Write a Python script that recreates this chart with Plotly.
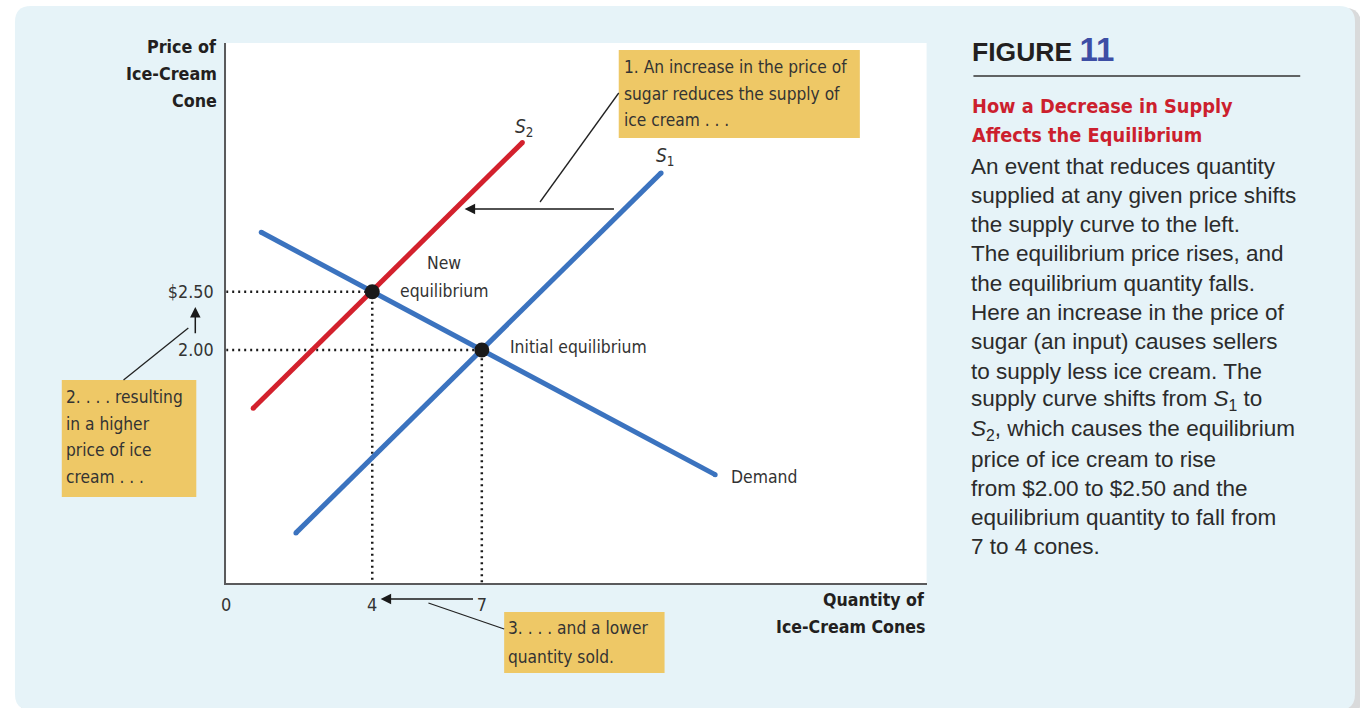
import plotly.graph_objects as go

# ---------------- data ----------------
demand_q = [0.96, 13.39]
demand_p = [3.01, 0.93]
supply1_q = [1.91, 11.91]
supply1_p = [0.43, 3.52]
supply2_q = [0.74, 8.11]
supply2_p = [1.50, 3.78]
eq_q = [4, 7]          # new, initial
eq_p = [2.50, 2.00]
x_tick_vals = [0, 4, 7]
x_tick_text = ["0", "4", "7"]
y_tick_vals = [2.50, 2.00]
y_tick_text = ["$2.50", "2.00"]

body_lines = [
    "An event that reduces quantity",
    "supplied at any given price shifts",
    "the supply curve to the left.",
    "The equilibrium price rises, and",
    "the equilibrium quantity falls.",
    "Here an increase in the price of",
    "sugar (an input) causes sellers",
    "to supply less ice cream. The",
    "supply curve shifts from <i>S</i><sub>1</sub> to",
    "<i>S</i><sub>2</sub>, which causes the equilibrium",
    "price of ice cream to rise",
    "from $2.00 to $2.50 and the",
    "equilibrium quantity to fall from",
    "7 to 4 cones.",
]
box1_lines = ["1. An increase in the price of", "sugar reduces the supply of", "ice cream . . ."]
box2_lines = ["2. . . . resulting", "in a higher", "price of ice", "cream . . ."]
box3_lines = ["3. . . . and a lower", "quantity sold."]

# ---------------- styling ----------------
W, H = 1360, 708
BLUE = "#3b73bf"
RED = "#d3212d"
PANEL = "#e6f3f8"
NOTE = "#eec866"
INK = "#333333"
NARROW = "DejaVu Sans Condensed, Liberation Sans Narrow, Arial Narrow, Roboto, sans-serif"
BODY = "Liberation Sans, Arial, sans-serif"

X_RANGE = [0, 19.18]
Y_RANGE = [0, 4.635]


def px(x):
    return x / W


def py(y):
    return 1 - y / H


def rounded_rect(x0, y0, x1, y1, r):
    pts = [
        f"M {px(x0 + r)} {py(y0)}",
        f"L {px(x1 - r)} {py(y0)}",
        f"Q {px(x1)} {py(y0)} {px(x1)} {py(y0 + r)}",
        f"L {px(x1)} {py(y1 - r)}",
        f"Q {px(x1)} {py(y1)} {px(x1 - r)} {py(y1)}",
        f"L {px(x0 + r)} {py(y1)}",
        f"Q {px(x0)} {py(y1)} {px(x0)} {py(y1 - r)}",
        f"L {px(x0)} {py(y0 + r)}",
        f"Q {px(x0)} {py(y0)} {px(x0 + r)} {py(y0)}",
        "Z",
    ]
    return " ".join(pts)


fig = go.Figure()

# dotted guides from the equilibrium points to both axes
for q, p in zip(eq_q, eq_p):
    fig.add_trace(go.Scatter(
        x=[0, q, q], y=[p, p, 0], mode="lines",
        line=dict(color="#1a1a1a", width=2.5, dash="2px,4px"),
        hoverinfo="skip", showlegend=False))

# demand and supply curves (markers at the ends give round caps)
for xs, ys, col in [(demand_q, demand_p, BLUE), (supply1_q, supply1_p, BLUE),
                    (supply2_q, supply2_p, RED)]:
    fig.add_trace(go.Scatter(
        x=xs, y=ys, mode="lines+markers",
        line=dict(color=col, width=5),
        marker=dict(color=col, size=5, line=dict(width=0)),
        hoverinfo="skip", showlegend=False))

# equilibrium points
fig.add_trace(go.Scatter(
    x=eq_q, y=eq_p, mode="markers",
    marker=dict(color="#1a1a1a", size=15, line=dict(width=0)),
    hoverinfo="skip", showlegend=False))

shapes = []
# card shadow and card
shapes.append(dict(type="path", path=rounded_rect(15, 8, 1361, 716, 16), xref="paper", yref="paper",
                   fillcolor="#d9dadb", line=dict(width=0), layer="below"))
shapes.append(dict(type="path", path=rounded_rect(10, 6, 1355, 710, 16), xref="paper", yref="paper",
                   fillcolor=PANEL, line=dict(width=0), layer="below"))
# white plotting field
shapes.append(dict(type="rect", xref="x domain", yref="y domain", x0=0, x1=1, y0=0, y1=1,
                   fillcolor="white", line=dict(width=0), layer="below"))


def note_box(x0, y0, x1, y1):
    shapes.append(dict(type="rect", xref="paper", yref="paper",
                       x0=px(x0), x1=px(x1), y0=py(y1), y1=py(y0),
                       fillcolor=NOTE, line=dict(width=0), layer="above"))


def leader(x0, y0, x1, y1):
    shapes.append(dict(type="line", xref="paper", yref="paper",
                       x0=px(x0), y0=py(y0), x1=px(x1), y1=py(y1),
                       line=dict(color="#222222", width=1.3), layer="above"))


note_box(616, 50, 858, 138)
note_box(57, 380, 192, 497)
note_box(501, 612, 662, 673)
leader(616, 93, 537, 202)
leader(119, 380, 184, 328)
leader(425, 603, 501, 629)
# rule under the figure number
shapes.append(dict(type="line", xref="paper", yref="paper",
                   x0=px(972), x1=px(1300), y0=py(76), y1=py(76),
                   line=dict(color="#333333", width=1.5)))

annotations = []


def text_lines(lines, x, y0, dy, size, color=INK, family=NARROW, anchor="left", bold=False):
    for i, t in enumerate(lines):
        txt = f"<b>{t}</b>" if bold else t
        annotations.append(dict(
            text=txt, xref="paper", yref="paper", x=px(x), y=py(y0 + i * dy),
            xanchor=anchor, yanchor="middle", showarrow=False,
            font=dict(family=family, size=size, color=color)))


# notes
text_lines(box1_lines, 619, 67, 26.5, 17.2)
text_lines(box2_lines, 59, 397, 26.7, 17.2)
text_lines(box3_lines, 503, 628, 28.5, 17.2)

# axis titles
text_lines(["Price of", "Ice-Cream", "Cone"], 215, 46, 27, 17.8, color="#231f20", anchor="right", bold=True)
text_lines(["Quantity of", "Ice-Cream Cones"], 925, 600, 27, 17.6, color="#231f20", anchor="right", bold=True)

# side panel
annotations.append(dict(
    text="<b>FIGURE <span style='color:#3d4ea5;font-size:33px'>11</span></b>", xref="paper", yref="paper",
    x=px(969), y=py(50), xanchor="left", yanchor="middle", showarrow=False,
    font=dict(family=BODY, size=26.5, color="#231f20")))
text_lines(["How a Decrease in Supply", "Affects the Equilibrium"], 969, 107, 28.5, 19.8,
           color="#cc1f2e", bold=True)
text_lines(body_lines, 968, 166, 29.3, 22.5, color="#2b2b2b", family=BODY)

# curve labels
annotations.append(dict(text="<i>S</i><sub>2</sub>", x=supply2_q[1], y=supply2_p[1], xref="x", yref="y",
                        showarrow=False, yshift=15, xshift=2,
                        font=dict(family=NARROW, size=19, color=INK)))
annotations.append(dict(text="<i>S</i><sub>1</sub>", x=supply1_q[1], y=supply1_p[1], xref="x", yref="y",
                        showarrow=False, yshift=16, xshift=4,
                        font=dict(family=NARROW, size=19, color=INK)))
annotations.append(dict(text="Demand", x=demand_q[1], y=demand_p[1], xref="x", yref="y",
                        xanchor="left", showarrow=False, xshift=14, yshift=-2,
                        font=dict(family=NARROW, size=17.4, color=INK)))
annotations.append(dict(text="Initial equilibrium", x=eq_q[1], y=eq_p[1], xref="x", yref="y",
                        xanchor="left", showarrow=False, xshift=26, yshift=3,
                        font=dict(family=NARROW, size=17.4, color=INK)))
annotations.append(dict(text="New", x=eq_q[0], y=eq_p[0], xref="x", yref="y",
                        showarrow=False, xshift=72, yshift=29,
                        font=dict(family=NARROW, size=17.4, color=INK)))
annotations.append(dict(text="equilibrium", x=eq_q[0], y=eq_p[0], xref="x", yref="y",
                        showarrow=False, xshift=72, yshift=1,
                        font=dict(family=NARROW, size=17.4, color=INK)))

# supply shift arrow (S1 -> S2)
annotations.append(dict(x=6.53, y=3.21, ax=10.66, ay=3.21, xref="x", yref="y", axref="x", ayref="y",
                        text="", showarrow=True, arrowhead=2, arrowsize=1.4, arrowwidth=1.5,
                        arrowcolor="#1a1a1a"))
# price rise arrow beside the price ticks
annotations.append(dict(x=px(191), y=2.37, ax=0, ay=2.13, xref="paper", yref="y", axref="pixel", ayref="y",
                        text="", showarrow=True, arrowhead=2, arrowsize=1.4, arrowwidth=1.5,
                        arrowcolor="#1a1a1a"))
# quantity fall arrow under the quantity ticks
annotations.append(dict(x=4.23, y=py(599), ax=6.80, ay=0, xref="x", yref="paper", axref="x", ayref="pixel",
                        text="", showarrow=True, arrowhead=2, arrowsize=1.4, arrowwidth=1.5,
                        arrowcolor="#1a1a1a"))

fig.update_layout(
    width=W, height=H, margin=dict(l=0, r=0, t=0, b=0),
    paper_bgcolor="white", plot_bgcolor="rgba(0,0,0,0)",
    shapes=shapes, annotations=annotations, showlegend=False,
    xaxis=dict(domain=[px(222), px(925)], range=X_RANGE, showgrid=False, zeroline=False,
               showline=True, linecolor="#5a5a5c", linewidth=2, ticks="",
               tickvals=x_tick_vals, ticktext=x_tick_text, ticklabelstandoff=4,
               tickfont=dict(family=NARROW, size=18, color=INK), fixedrange=True),
    yaxis=dict(domain=[py(583), py(43)], range=Y_RANGE, showgrid=False, zeroline=False,
               showline=True, linecolor="#5a5a5c", linewidth=2, ticks="",
               tickvals=y_tick_vals, ticktext=y_tick_text, ticklabelstandoff=7,
               tickfont=dict(family=NARROW, size=17.8, color=INK), fixedrange=True),
)

fig.write_html("out.html", config={"displayModeBar": False})
